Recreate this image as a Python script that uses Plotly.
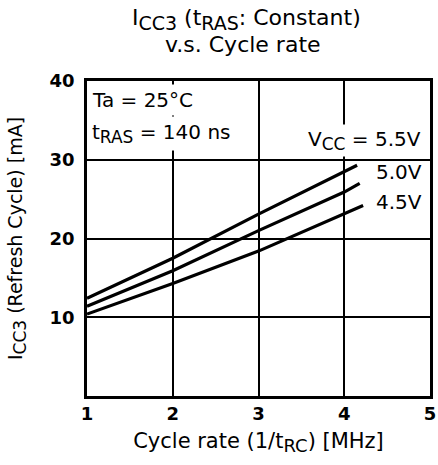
import plotly.graph_objects as go

# Data
vcc_labels = ["5.5V", "5.0V", "4.5V"]
x_55 = [1, 2, 3, 4, 4.15]
y_55 = [12.4, 17.5, 23.1, 28.5, 29.3]
x_50 = [1, 2, 3, 4, 4.18]
y_50 = [11.4, 15.9, 21.0, 25.9, 27.0]
x_45 = [1, 2, 3, 4, 4.22]
y_45 = [10.4, 14.3, 18.4, 23.1, 24.2]
x_ticks = [1, 2, 3, 4, 5]
y_ticks = [10, 20, 30, 40]

FONT = "DejaVu Sans"


def sub(t, px):
    return "<sub><span style='font-size:%dpx'>%s</span></sub>" % (px, t)


fig = go.Figure()
for xs, ys in [(x_55, y_55), (x_50, y_50), (x_45, y_45)]:
    fig.add_trace(go.Scatter(x=xs, y=ys, mode="lines",
                             line=dict(color="black", width=3.2),
                             showlegend=False, hoverinfo="skip"))

axis_common = dict(showgrid=True, gridcolor="black", gridwidth=2,
                   showline=True, linecolor="black", linewidth=2.5, mirror=True,
                   zeroline=False, ticks="", automargin=False,
                   tickfont=dict(family=FONT, size=18, color="black", weight="bold"))

fig.update_xaxes(range=[1, 5], tickvals=x_ticks, ticklabelstandoff=0,
                 title=dict(text="Cycle rate (1/t" + sub("RC", 18) + ") [MHz]",
                            font=dict(family=FONT, size=21, color="black"),
                            standoff=10),
                 **axis_common)
fig.update_yaxes(range=[0, 40], tickvals=y_ticks, ticklabelstandoff=6,
                 title=dict(text="I" + sub("CC3", 17) + " (Refresh Cycle) [mA]",
                            font=dict(family=FONT, size=19, color="black"),
                            standoff=22),
                 **axis_common)

ann_font = dict(family=FONT, size=20, color="black")
annotations = [
    dict(text="I" + sub("CC3", 19) + " (t" + sub("RAS", 19) + ": Constant)", x=0.465, y=1.195,
         xref="paper", yref="paper", showarrow=False, xanchor="center", yanchor="middle",
         font=dict(family=FONT, size=22, color="black")),
    dict(text="v.s. Cycle rate", x=0.455, y=1.115,
         xref="paper", yref="paper", showarrow=False, xanchor="center", yanchor="middle",
         font=dict(family=FONT, size=22, color="black")),
    dict(text="Ta = 25°C", x=1.015, y=37.6,
         xref="x", yref="y", showarrow=False, xanchor="left", yanchor="middle",
         align="left", bgcolor="white", borderpad=3, font=ann_font),
    dict(text="t" + sub("RAS", 17) + " = 140 ns", x=1.015, y=33.3,
         xref="x", yref="y", showarrow=False, xanchor="left", yanchor="middle",
         align="left", bgcolor="white", borderpad=3, font=ann_font),
    dict(text="V" + sub("CC", 17) + " = " + vcc_labels[0], x=4.93, y=32.5,
         xref="x", yref="y", showarrow=False, xanchor="right", yanchor="middle",
         bgcolor="white", borderpad=2, font=ann_font),
    dict(text=vcc_labels[1], x=4.93, y=28.5,
         xref="x", yref="y", showarrow=False, xanchor="right", yanchor="middle",
         font=ann_font),
    dict(text=vcc_labels[2], x=4.93, y=24.6,
         xref="x", yref="y", showarrow=False, xanchor="right", yanchor="middle",
         font=ann_font),
]

fig.update_layout(width=438, height=465,
                  margin=dict(l=87, r=8, t=81, b=69),
                  paper_bgcolor="white", plot_bgcolor="white",
                  annotations=annotations, showlegend=False)

# Remove the browser's default 8px body margin so the figure fills the window.
fig.write_html("out.html", config={"displayModeBar": False},
               post_script="document.body.style.margin='0px';")
